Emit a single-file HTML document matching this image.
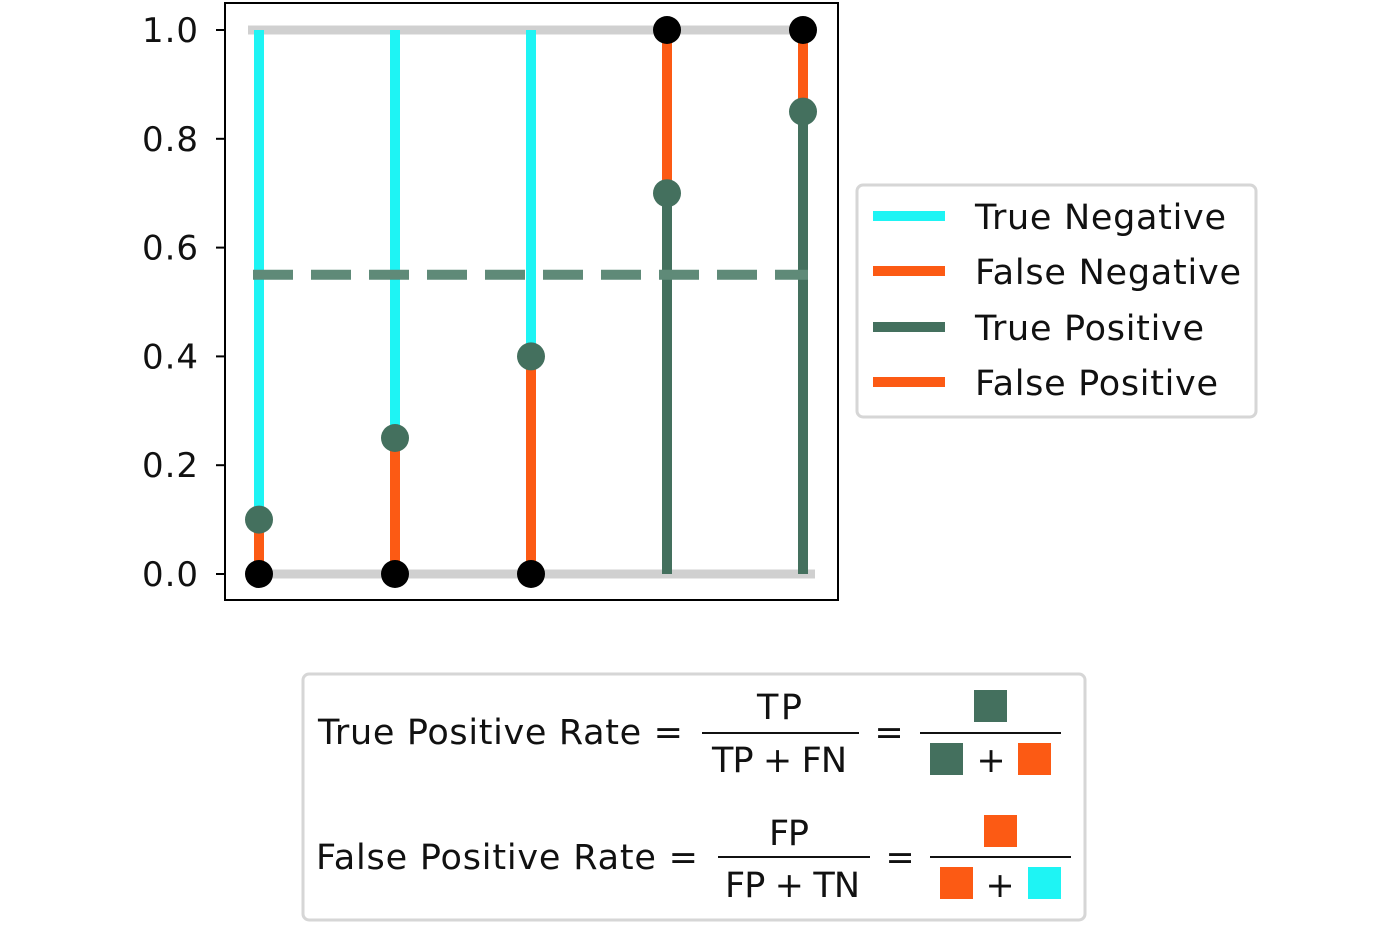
<!DOCTYPE html>
<html><head><meta charset="utf-8"><style>
body{margin:0;background:#fff;width:1400px;height:925px;overflow:hidden;font-family:"DejaVu Sans","Liberation Sans",sans-serif}
</style></head><body>
<svg width="1400" height="925" viewBox="0 0 1400 925" font-family="DejaVu Sans, Liberation Sans, sans-serif">
<g id="plot"></g>
<g>
<rect x="857" y="185" width="399" height="232" rx="6" fill="#fff" stroke="#d6d6d6" stroke-width="3"/>
<line x1="873" y1="216" x2="945" y2="216" stroke="#1ef4f4" stroke-width="10"/>
<text x="975" y="229" font-size="35" textLength="251" fill="#111">True Negative</text>
<line x1="873" y1="271" x2="945" y2="271" stroke="#fc5a14" stroke-width="10"/>
<text x="975" y="284" font-size="35" textLength="266" fill="#111">False Negative</text>
<line x1="873" y1="327" x2="945" y2="327" stroke="#44705e" stroke-width="10"/>
<text x="975" y="340" font-size="35" textLength="229" fill="#111">True Positive</text>
<line x1="873" y1="382" x2="945" y2="382" stroke="#fc5a14" stroke-width="10"/>
<text x="975" y="395" font-size="35" textLength="243" fill="#111">False Positive</text>
</g>
<g font-size="35" fill="#111">
<rect x="303" y="674" width="782" height="246" rx="6" fill="#fff" stroke="#d6d6d6" stroke-width="3"/>
<text x="318" y="744" textLength="365">True Positive Rate =</text>
<text x="757" y="719" textLength="45">TP</text>
<line x1="702" y1="733" x2="859" y2="733" stroke="#111" stroke-width="2"/>
<text x="712" y="772" textLength="135">TP + FN</text>
<text x="889" y="744" text-anchor="middle">=</text>
<line x1="920" y1="733" x2="1061" y2="733" stroke="#111" stroke-width="2"/>
<rect x="974" y="690" width="33" height="32" fill="#44705e"/>
<rect x="930" y="743" width="33" height="32" fill="#44705e"/>
<text x="991" y="772" text-anchor="middle">+</text>
<rect x="1018" y="743" width="33" height="32" fill="#fc5a14"/>
<text x="316" y="869" textLength="382">False Positive Rate =</text>
<text x="769" y="845" textLength="40">FP</text>
<line x1="718" y1="857" x2="870" y2="857" stroke="#111" stroke-width="2"/>
<text x="725" y="897" textLength="135">FP + TN</text>
<text x="900" y="869" text-anchor="middle">=</text>
<line x1="930" y1="857" x2="1071" y2="857" stroke="#111" stroke-width="2"/>
<rect x="984" y="815" width="33" height="32" fill="#fc5a14"/>
<rect x="940" y="867" width="33" height="32" fill="#fc5a14"/>
<text x="1000" y="897" text-anchor="middle">+</text>
<rect x="1028" y="867" width="33" height="32" fill="#1ef4f4"/>
</g>
</svg>
<script>
const categories=["s1","s2","s3","s4","s5"];
const scores=[0.1,0.25,0.4,0.7,0.85];
const labels=[0,0,0,1,1];
const threshold=0.55;
const yTicks=[0,0.2,0.4,0.6,0.8,1.0];
const tickLabels=["0.0","0.2","0.4","0.6","0.8","1.0"];
const NS="http://www.w3.org/2000/svg";
const g=document.getElementById('plot');
const x=i=>259+i*136;
const y=v=>574-v*544;
function mk(t,a){const e=document.createElementNS(NS,t);for(const k in a)e.setAttribute(k,a[k]);g.appendChild(e);return e;}
let e=mk('rect',{x:225,y:3,width:613,height:597,fill:'none',stroke:'#000','stroke-width':2});


yTicks.forEach((v,i)=>{
 let t=mk('line',{x1:216,x2:225,y1:y(v),y2:y(v),stroke:'#000','stroke-width':2});
 
 
 let l=mk('text',{x:142,y:y(v)+12,'font-size':34,textLength:56,fill:'#111'});
 l.textContent=tickLabels[i];
 
 
});
[0,1].forEach(v=>{
 let r=mk('line',{x1:248,x2:815,y1:y(v),y2:y(v),stroke:'#d0d0d0','stroke-width':9});
 
 
});
const C='#1ef4f4',O='#fc5a14',G='#44705e';
scores.forEach((s,i)=>{
 const X=x(i);
 let a,b;
 if(labels[i]===0){a=mk('line',{x1:X,x2:X,y1:y(s),y2:y(1),stroke:C,'stroke-width':10});b=mk('line',{x1:X,x2:X,y1:y(0),y2:y(s),stroke:O,'stroke-width':10});}
 else{a=mk('line',{x1:X,x2:X,y1:y(0),y2:y(s),stroke:G,'stroke-width':10});b=mk('line',{x1:X,x2:X,y1:y(s),y2:y(1),stroke:O,'stroke-width':10});}
 
 
 
 
});
let d=mk('line',{x1:253,x2:808,y1:y(threshold),y2:y(threshold),stroke:'#5f8a78','stroke-width':10,'stroke-dasharray':'40 18'});


scores.forEach((s,i)=>{
 let p=mk('circle',{cx:x(i),cy:y(s),r:14,fill:G});
 
 
 let q=mk('circle',{cx:x(i),cy:y(labels[i]),r:14,fill:'#000'});
 
 
});
</script>
</body></html>
